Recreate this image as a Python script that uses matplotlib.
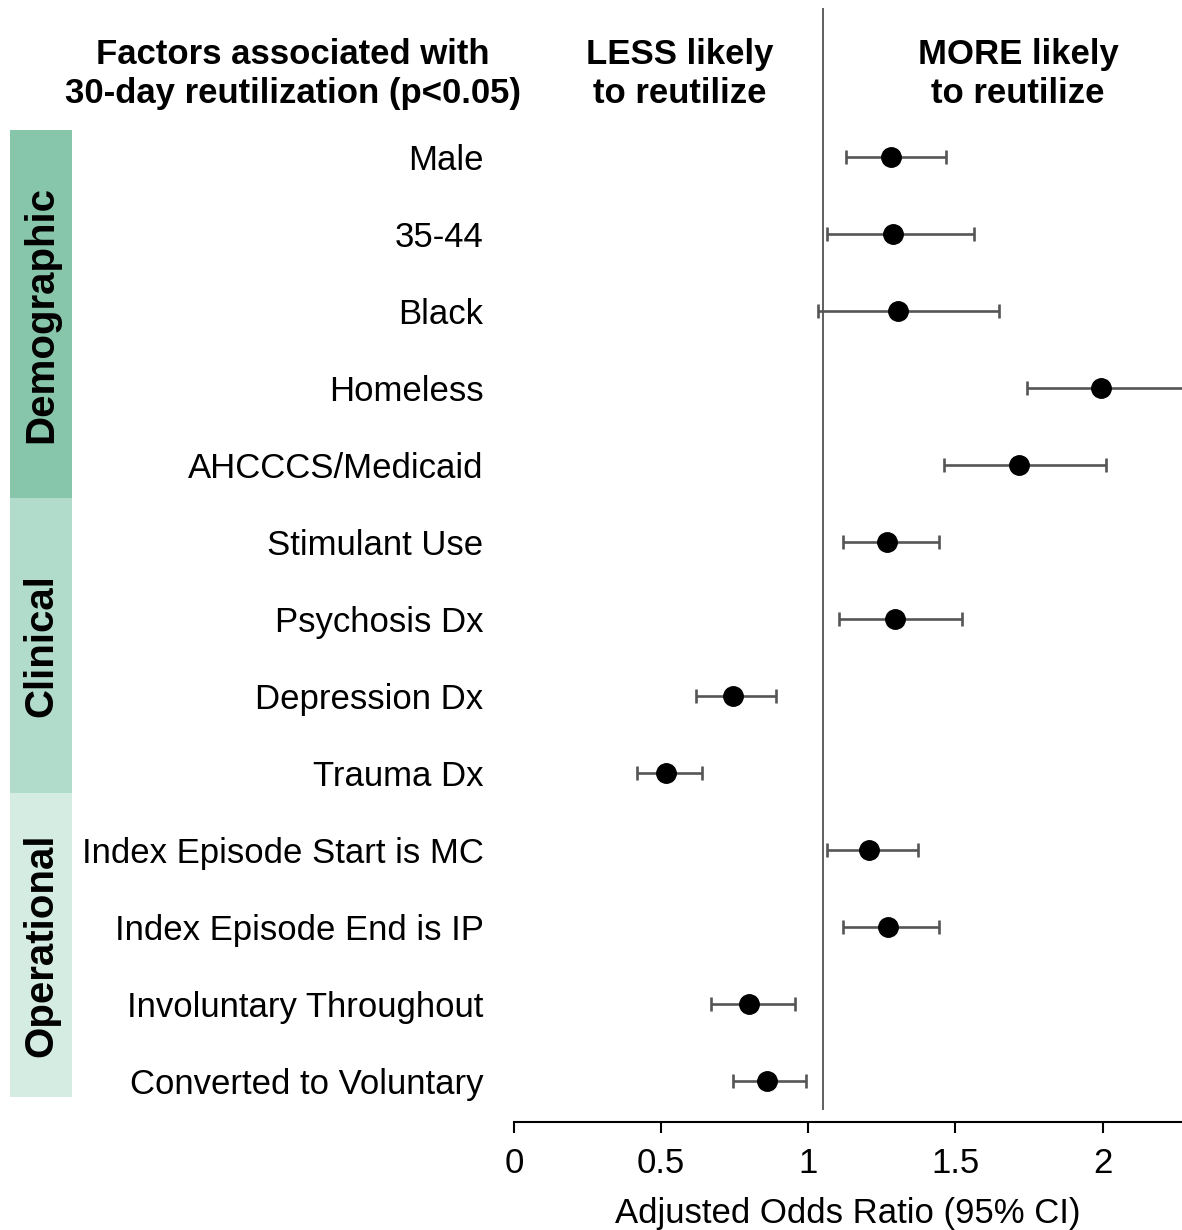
import matplotlib.pyplot as plt
import numpy as np

plt.rcParams['font.family'] = ['Liberation Sans', 'DejaVu Sans']

# data
factors = ['Male', '35-44', 'Black', 'Homeless', 'AHCCCS/Medicaid',
           'Stimulant Use', 'Psychosis Dx', 'Depression Dx', 'Trauma Dx',
           'Index Episode Start is MC', 'Index Episode End is IP',
           'Involuntary Throughout', 'Converted to Voluntary']
odds = [1.28, 1.287, 1.304, 1.994, 1.715,
        1.266, 1.295, 0.744, 0.516,
        1.207, 1.270, 0.800, 0.859]
ci_lo = [1.127, 1.063, 1.033, 1.744, 1.460,
         1.117, 1.105, 0.620, 0.418,
         1.062, 1.118, 0.668, 0.745]
ci_hi = [1.467, 1.563, 1.648, 2.35, 2.012,
         1.445, 1.521, 0.890, 0.640,
         1.373, 1.445, 0.954, 0.992]

groups = ['Demographic', 'Clinical', 'Operational']
group_edges = [(-0.35, 4.43), (4.43, 8.26), (8.26, 12.21)]
group_colors = ['#87c6aa', '#b1dbca', '#d5ece2']

ref_line = 1.05
xticks = [0, 0.5, 1, 1.5, 2]
xtick_labels = ['0', '0.5', '1', '1.5', '2']

W, H = 1182, 1230
fig = plt.figure(figsize=(W / 100, H / 100), dpi=100)

# main axes, placed in pixel terms
ax_left, ax_top, ax_bot = 514, 8, 1122
ax = fig.add_axes([ax_left / W, 1 - ax_bot / H, 1 - ax_left / W, (ax_bot - ax_top) / H])

y = np.arange(len(factors))
ylo = (ax_top - 157) / 77.0
yhi = (ax_bot - 157) / 77.0

err = [np.array(odds) - np.array(ci_lo), np.array(ci_hi) - np.array(odds)]
ax.errorbar(odds, y, xerr=err, fmt='o', color='black', ms=14,
            ecolor='#555555', elinewidth=1.9, capsize=5, capthick=1.9, zorder=3)

ax.vlines(ref_line, ylo, (1110 - 157) / 77.0, color='#444444', lw=1.2)

ax.set_xlim(0, 2.27)
ax.set_ylim(yhi, ylo)
ax.set_yticks(y)
ax.set_yticklabels(factors, fontsize=25)
ax.tick_params(axis='y', length=0, pad=22)
ax.set_xticks(xticks)
ax.set_xticklabels(xtick_labels, fontsize=25)
ax.tick_params(axis='x', length=8, width=1.5, pad=10)
for s in ['left', 'top', 'right']:
    ax.spines[s].set_visible(False)
ax.spines['bottom'].set_linewidth(1.5)
ax.set_xlabel('Adjusted Odds Ratio (95% CI)', fontsize=25, labelpad=12)

# group bands on the left
band = fig.add_axes([10 / W, 1 - ax_bot / H, 62 / W, (ax_bot - ax_top) / H])
band.set_ylim(yhi, ylo)
band.set_xlim(0, 1)
band.axis('off')
for name, (a, b), c in zip(groups, group_edges, group_colors):
    band.axhspan(a, b, color=c, lw=0)
    band.text(0.5, (a + b) / 2, name, rotation=90, ha='center', va='center',
              fontsize=29, fontweight='bold')

# headers
hdr = dict(ha='center', va='center', fontsize=25, fontweight='bold', linespacing=1.25)
fig.text(293 / W, 1 - 74 / H, 'Factors associated with\n30-day reutilization (p<0.05)', **hdr)
fig.text(680 / W, 1 - 74 / H, 'LESS likely\nto reutilize', **hdr)
fig.text(1018 / W, 1 - 74 / H, 'MORE likely\nto reutilize', **hdr)

plt.savefig('out.png', dpi=100)
